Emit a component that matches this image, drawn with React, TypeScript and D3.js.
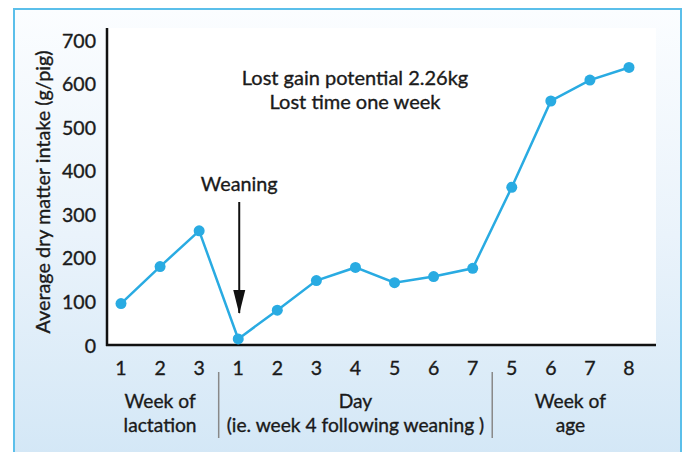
import React from "react";
import * as d3 from "d3";

const tickLabels = ["1", "2", "3", "1", "2", "3", "4", "5", "6", "7", "5", "6", "7", "8"];
const intake = [95, 180, 262, 14, 80, 148, 178, 143, 157, 176, 362, 560, 608, 637];
const yTicks = [0, 100, 200, 300, 400, 500, 600, 700];
const groupLabels = [
  { lines: ["Week of", "lactation"], from: 0, to: 2 },
  { lines: ["Day", "(ie. week 4 following weaning )"], from: 3, to: 9 },
  { lines: ["Week of", "age"], from: 10, to: 13 },
];
const separators = [2.5, 9.5];
const annotation = ["Lost gain potential 2.26kg", "Lost time one week"];
const weaningIndex = 3;

const W = 683;
const H = 452;
const FONT = "Lato, 'Open Sans', sans-serif";
const BLUE = "#29abe2";
const INK = "#1a1a1a";
const txt = { fontFamily: FONT, fill: INK, stroke: INK, strokeWidth: 0.35 } as const;

export default function App() {
  const x = d3.scaleLinear().domain([0, 13]).range([121, 629]);
  const y = d3.scaleLinear().domain([0, 700]).range([345, 40]);
  const line = d3
    .line<number>()
    .x((_, i) => x(i))
    .y((d) => y(d));
  const plotLeft = 107;
  const plotRight = 656;
  const plotTop = 28;
  const plotBottom = y(0);
  const wx = x(weaningIndex) + 1;

  return (
    <svg width={W} height={H} style={{ position: "absolute", left: 0, top: 0 }}>
      <defs>
        <linearGradient id="bg" x1="0" y1="0" x2="0" y2="1">
          <stop offset="0" stopColor="#fbfdff" />
          <stop offset="0.5" stopColor="#eaf3fb" />
          <stop offset="1" stopColor="#d3e7f6" />
        </linearGradient>
      </defs>
      <rect x={0} y={0} width={W} height={H} fill="#ffffff" />
      <rect x={14} y={9} width={667} height={H} fill="url(#bg)" stroke="#5bbfea" strokeWidth={2} />
      <rect x={plotLeft} y={plotTop} width={plotRight - plotLeft} height={plotBottom - plotTop} fill="#ffffff" />

      <line x1={plotLeft} x2={plotLeft} y1={plotTop} y2={plotBottom + 1} stroke="#111" strokeWidth={2.5} />
      <line x1={plotLeft - 1} x2={plotRight} y1={plotBottom} y2={plotBottom} stroke="#111" strokeWidth={2.5} />
      {yTicks.map((t) => (
        <text key={t} x={96} y={y(t)} textAnchor="end" dominantBaseline="central" fontSize={19.5} {...txt}>
          {t}
        </text>
      ))}
      <text
        transform={`translate(42, 192) rotate(-90)`}
        textAnchor="middle"
        dominantBaseline="central"
        fontSize={19.8}
        {...txt}
      >
        Average dry matter intake (g/pig)
      </text>

      {tickLabels.map((t, i) => (
        <text key={i} x={x(i)} y={367} textAnchor="middle" dominantBaseline="central" fontSize={19.5} {...txt}>
          {t}
        </text>
      ))}
      {separators.map((s) => (
        <line key={s} x1={x(s)} x2={x(s)} y1={372} y2={438} stroke="#888" strokeWidth={1.5} />
      ))}
      {groupLabels.map((g, gi) => (
        <g key={gi}>
          {g.lines.map((l, li) => (
            <text
              key={li}
              x={(x(g.from) + x(g.to)) / 2}
              y={400 + li * 24}
              textAnchor="middle"
              dominantBaseline="central"
              fontSize={19.2}
              {...txt}
            >
              {l}
            </text>
          ))}
        </g>
      ))}

      {annotation.map((a, i) => (
        <text key={i} x={355} y={77 + i * 24} textAnchor="middle" dominantBaseline="central" fontSize={20} {...txt}>
          {a}
        </text>
      ))}
      <text x={wx} y={183} textAnchor="middle" dominantBaseline="central" fontSize={19.8} {...txt}>
        Weaning
      </text>
      <line x1={wx} x2={wx} y1={202} y2={313} stroke="#111" strokeWidth={2} />
      <path d={`M${wx - 6},${290} L${wx + 6},${290} L${wx},${314} Z`} fill="#111" />

      <path d={line(intake) || ""} fill="none" stroke={BLUE} strokeWidth={2.5} />
      {intake.map((v, i) => (
        <circle key={i} cx={x(i)} cy={y(v)} r={5.5} fill={BLUE} />
      ))}
    </svg>
  );
}
